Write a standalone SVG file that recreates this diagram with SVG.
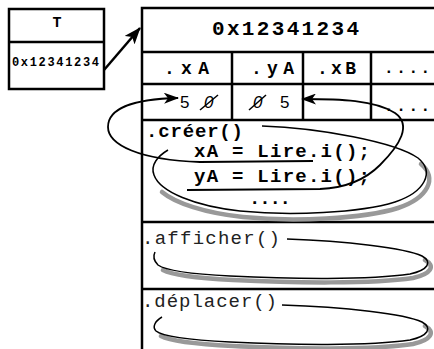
<svg xmlns="http://www.w3.org/2000/svg" width="434" height="349" viewBox="0 0 434 349">
  <style>
    .frame { fill: none; stroke: #000; stroke-width: 2.5; }
    .mono-b { font-family: "Liberation Mono", "Courier New", monospace; font-weight: bold; fill: #000; }
    .mono { font-family: "Liberation Mono", "Courier New", monospace; fill: #222; }
    .val { font-family: "Liberation Sans", Arial, sans-serif; font-size: 17px; fill: #000; }
    .zero { font-family: "Liberation Sans", Arial, sans-serif; font-size: 17px; font-style: italic; fill: #000; }
    .strike { stroke: #000; stroke-width: 1.5; }
    .loop { fill: none; stroke: #000; stroke-width: 1.8; }
    .ring { fill: none; stroke: #000; stroke-width: 1.5; }
    .shadow { fill: none; stroke: #999; stroke-width: 4.5; stroke-linecap: round; }
  </style>
  <defs>
    <marker id="ah" markerWidth="15" markerHeight="11" refX="14" refY="5.5" orient="auto" markerUnits="userSpaceOnUse">
      <path d="M0,0 L15,5.5 L0,11 L4,5.5 z" fill="#000"/>
    </marker>
    <marker id="ahBig" markerWidth="17" markerHeight="13" refX="16" refY="6.5" orient="auto" markerUnits="userSpaceOnUse">
      <path d="M0,0 L17,6.5 L0,13 L4,6.5 z" fill="#000"/>
    </marker>
  </defs>
  <rect width="434" height="349" fill="#fff"/>

  <!-- reference variable T -->
  <g id="ref-T">
    <rect class="frame" x="9" y="9" width="95" height="80"/>
    <line class="frame" x1="9" y1="42" x2="104" y2="42"/>
    <text class="mono-b" x="57" y="27" font-size="15" text-anchor="middle">T</text>
    <text class="mono-b" x="12" y="66" font-size="12" textLength="87" lengthAdjust="spacing">0x12341234</text>
  </g>

  <!-- object at address 0x12341234 -->
  <g id="object">
    <path class="frame" d="M434,8 H142 V349"/>
    <line class="frame" x1="142" y1="52" x2="434" y2="52"/>
    <line class="frame" x1="142" y1="84" x2="434" y2="84"/>
    <line class="frame" x1="142" y1="120" x2="434" y2="120"/>
    <line class="frame" x1="142" y1="222" x2="434" y2="222"/>
    <line class="frame" x1="142" y1="289" x2="434" y2="289"/>
    <line class="frame" x1="232" y1="52" x2="232" y2="120"/>
    <line class="frame" x1="303" y1="52" x2="303" y2="120"/>
    <line class="frame" x1="371" y1="52" x2="371" y2="120"/>
    <text class="mono-b" x="212" y="35" font-size="21" textLength="147" lengthAdjust="spacing">0x12341234</text>
  </g>

  <!-- attributes -->
  <g id="field-xA">
    <text class="mono-b" x="164" y="74" font-size="18" textLength="45" lengthAdjust="spacing">.xA</text>
    <text class="val" x="180" y="108">5</text>
    <text class="zero" x="204" y="108">0</text>
    <line class="strike" x1="200" y1="110" x2="218" y2="95"/>
  </g>
  <g id="field-yA">
    <text class="mono-b" x="251" y="74" font-size="18" textLength="43" lengthAdjust="spacing">.yA</text>
    <text class="zero" x="253" y="108">0</text>
    <line class="strike" x1="249" y1="110" x2="266" y2="95"/>
    <text class="val" x="280" y="108">5</text>
  </g>
  <g id="field-xB">
    <text class="mono-b" x="317" y="74" font-size="18" textLength="39" lengthAdjust="spacing">.xB</text>
  </g>
  <g id="field-more">
    <text class="mono-b" x="384" y="73" font-size="16" letter-spacing="2.6">....</text>
    <text class="mono-b" x="384" y="111" font-size="16" letter-spacing="2.6">....</text>
  </g>

  <!-- methods -->
  <g id="method-creer">
    <path class="shadow" d="M421,164 C438,178 428,198 398,208 C363,219 293,222 243,217 C205,213 175,203 162,192"/>
    <path class="ring" d="M262,126 C320,128 395,142 418,158 C435,172 425,192 395,202 C360,213 290,216 240,211 C195,206 160,192 154,175 C150,165 158,156 168,150"/>
    <text class="mono-b" x="146" y="137" font-size="19" textLength="97" lengthAdjust="spacing">.créer()</text>
    <text class="mono-b" x="194" y="157" font-size="19" textLength="176" lengthAdjust="spacing">xA = Lire.i();</text>
    <text class="mono-b" x="194" y="182" font-size="19" textLength="176" lengthAdjust="spacing">yA = Lire.i();</text>
    <text class="mono-b" x="249" y="204" font-size="19" textLength="42" lengthAdjust="spacing">....</text>
  </g>
  <g id="method-afficher">
    <path class="shadow" d="M425,260 C436,266 431,274 413,278 C373,284 293,283 233,280 C195,278 172,275 163,270"/>
    <path class="ring" d="M287,239 C345,241 405,248 422,256 C433,262 428,270 410,274 C370,280 290,279 230,276 C190,274 165,270 158,265 C154,261 153,256 155,252"/>
    <text class="mono" x="142" y="244" font-size="19" textLength="138" lengthAdjust="spacing">.afficher()</text>
  </g>
  <g id="method-deplacer">
    <path class="shadow" d="M425,326 C436,332 431,340 413,344 C373,350 293,349 233,346 C195,344 170,341 161,336"/>
    <path class="ring" d="M282,305 C345,307 405,314 422,322 C433,328 428,336 410,340 C370,346 290,345 230,342 C190,340 162,336 156,331 C152,327 155,321 162,317"/>
    <text class="mono" x="142" y="307" font-size="19" textLength="135" lengthAdjust="spacing">.déplacer()</text>
  </g>

  <!-- connectors -->
  <g id="connectors">
    <line class="frame" x1="104" y1="70" x2="140" y2="28" marker-end="url(#ahBig)"/>
    <path class="loop" d="M313,161 L200,162 C140,160 108,145 108,127 C108,108 135,99 178,98" marker-end="url(#ah)"/>
    <path class="loop" d="M187,190 L320,189 C345,188 365,180 380,165 C400,145 412,125 395,113 C375,100 340,99 302,99" marker-end="url(#ah)"/>
  </g>
</svg>
